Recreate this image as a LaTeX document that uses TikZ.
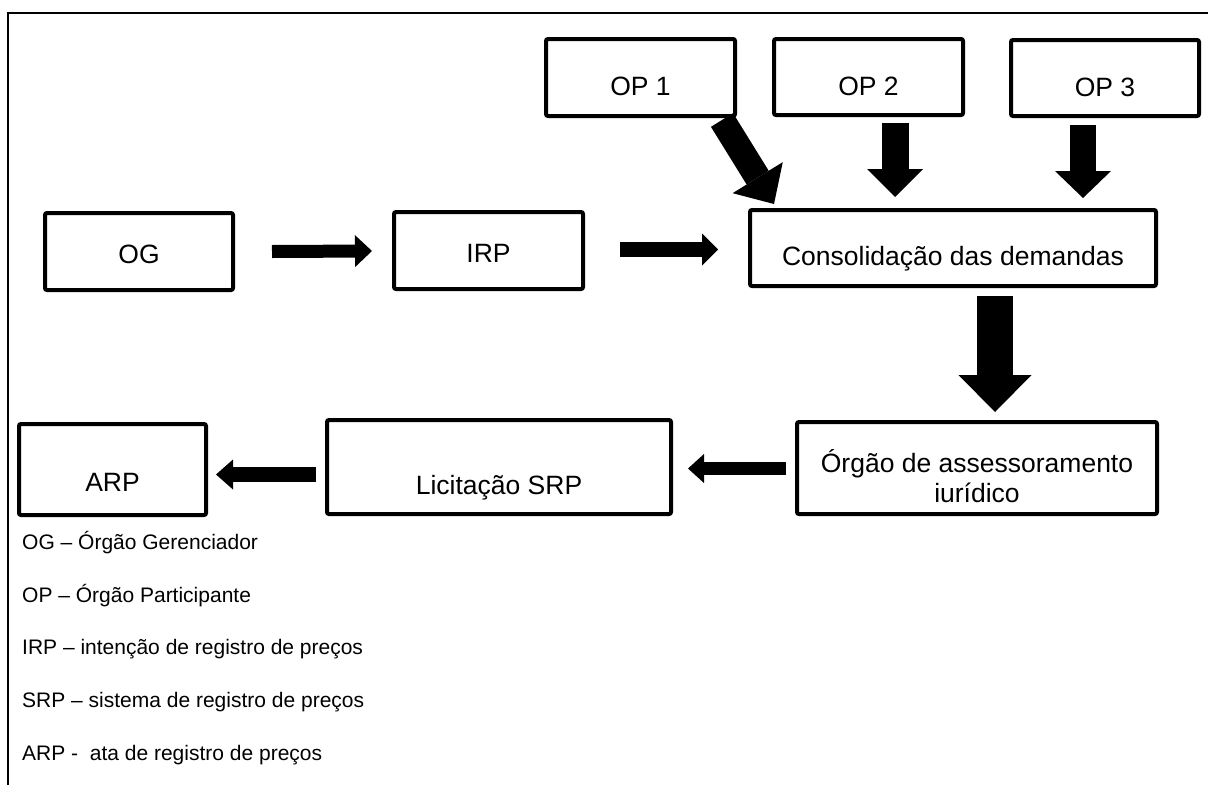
\documentclass[tikz,border=0pt]{standalone}
\usepackage{fontspec}
\setmainfont{Liberation Sans}
\usetikzlibrary{arrows.meta,calc}

\begin{document}
\begin{tikzpicture}[x=1pt, y=-1pt,
        box/.style={draw, line width=4pt, rounded corners=2pt, inner sep=2pt, font=\fontsize{26.5}{30}\selectfont},
        fatarrow/.style n args={3}{line width=#1, -{Triangle[length=#2, width=#3, line width=0pt]}},
        legend/.style={anchor=base west, inner sep=0pt, font=\fontsize{21}{25}\selectfont}]
                \useasboundingbox (0,0) rectangle (1208,785);
                \draw [line width=2.5pt] (8,785) -- (8,13) -- (1208,13);
                % first row
                \node[box, minimum width=188, minimum height=77, text height=23pt, text depth=0pt] at (139,251.5) (og) {OG};
                \node[box, minimum width=189, minimum height=77, text height=23pt, text depth=0pt] at (488.5,250.5) (irp) {IRP};
                \node[box, minimum width=406, minimum height=76, text height=35pt, text depth=0pt] at (953,248) (cons) {Consolidação das demandas};
                \node[box, minimum width=189, minimum height=77, text height=36pt, text depth=0pt] at (640.5,77.5) (op1) {OP 1};
                \node[box, minimum width=189, minimum height=76, text height=36pt, text depth=0pt] at (868.5,77) (op2) {OP 2};
                \node[box, minimum width=188, minimum height=76, text height=36pt, text depth=0pt] at (1105,78) (op3) {OP 3};
                % second row
                \node[box, align=center, minimum width=360, minimum height=92] at (977,468) (orgao) {\rule{0pt}{40pt}Órgão de assessoramento\\iurídico};
                \node[box, minimum width=344, minimum height=94, text height=55pt, text depth=0pt] at (499,467) (lic) {Licitação SRP};
                \node[box, minimum width=187, minimum height=91, text height=44pt, text depth=0pt] at (112.5,469.5) (arp) {ARP};
                % arrows
                \draw [fatarrow={13pt}{17pt}{32pt}] ($(og.east)+(37,0)$) -- ($(irp.west)+(-20,0.5)$);
                \draw [fatarrow={15pt}{16pt}{32pt}] ($(irp.east)+(35,-1)$) -- ($(cons.west)+(-30,1.5)$);
                \draw [fatarrow={26pt}{31pt}{59pt}] ($(op1.south east)+(-15,2)$) -- ($(cons.north west)+(26,-4)$);
                \draw [fatarrow={27pt}{28pt}{56pt}] ($(op2.south)+(26.5,6)$) -- ($(cons.north)+(-58,-11)$);
                \draw [fatarrow={26pt}{27pt}{56pt}] ($(op3.south)+(-22,7)$) -- ($(cons.north)+(130,-10)$);
                \draw [fatarrow={36pt}{37pt}{73pt}] ($(cons.south)+(42,8)$) -- ($(orgao.north)+(18,-8)$);
                \draw [fatarrow={13pt}{16pt}{29pt}] ($(orgao.west)+(-9,0.5)$) -- ($(lic.east)+(15,1.5)$);
                \draw [fatarrow={15pt}{17pt}{30pt}] ($(lic.west)+(-9,7.5)$) -- ($(arp.east)+(8,5)$);
                % legend
                \node[legend] at (22,549.5) (kog) {OG – Órgão Gerenciador};
                \node[legend] at (22,602.5) (kop) {OP – Órgão Participante};
                \node[legend] at (22,654.5) (kirp) {IRP – intenção de registro de preços};
                \node[legend] at (22,707.5) (ksrp) {SRP – sistema de registro de preços};
                \node[legend] at (22,760.5) (karp) {ARP -~ ata de registro de preços};
            \end{tikzpicture}
\end{document}
